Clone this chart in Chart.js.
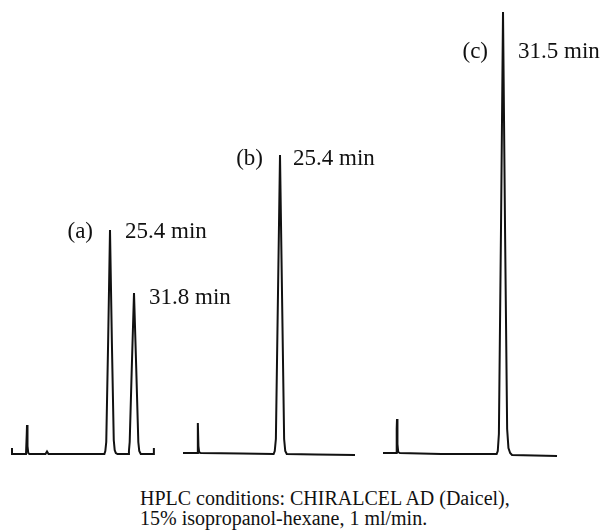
<!DOCTYPE html>
<html>
<head>
<meta charset="utf-8">
<script src="https://cdn.jsdelivr.net/npm/chart.js@4/dist/chart.umd.min.js"></script>
<style>
  body { margin: 0; background: #fff; }
  #wrap { position: relative; width: 604px; height: 530px; }
  #chart { position: absolute; left: 0; top: 0; }
  .caption {
    position: absolute; left: 140px; top: 488px;
    font-family: 'Liberation Serif', 'Times New Roman', serif;
    font-size: 20px; line-height: 20px; color: #111; white-space: nowrap;
  }
</style>
</head>
<body>
<div id="wrap">
  <canvas id="chart" width="604" height="480"></canvas>
  <div class="caption">HPLC conditions: CHIRALCEL AD (Daicel),<br>15% isopropanol-hexane, 1 ml/min.</div>
</div>
<script>
// Chromatogram (a): racemate, two enantiomer peaks
const timeA = [-0.73, -0.73, 3.0, 3.2, 3.27, 3.4, 3.6, 3.9, 8.2, 8.6, 9.0, 23.9, 24.15, 24.4, 24.9, 25.4, 25.9, 26.4, 26.65, 26.95, 27.4, 30.2, 30.45, 30.65, 31.2, 31.8, 32.4, 32.95, 33.2, 33.6, 37.1, 37.1];
const signalA = [6, 0, 0, 20, 29, 8, 1, 0, 0, 2.5, 0, 0, 3, 12, 112, 224, 112, 14, 4, 1, 0, 0, 3, 12, 85, 161, 85, 12, 3, 0, 0, 6];

// Chromatogram (b)
const timeB = [-0.47, 3.3, 3.45, 3.53, 3.65, 3.85, 4.3, 15, 23.7, 24.0, 24.3, 24.85, 25.4, 25.95, 26.5, 26.8, 27.2, 35, 45.4];
const signalB = [1, 1, 22, 31, 8, 1.5, 1, 0.5, 0, 3, 15, 157, 299, 157, 15, 3, 0, -0.5, -1];

// Chromatogram (c)
const timeC = [-0.5, 3.0, 3.15, 3.23, 3.35, 3.55, 4.0, 15, 29.8, 30.1, 30.4, 30.95, 31.5, 32.05, 32.6, 32.95, 33.4, 33.9, 40, 45.9];
const signalC = [1, 1, 25, 35, 10, 2, 1, 0, 0, 3, 20, 221, 442, 221, 25, 6, 1, -1, -1.5, -2];

// Peak annotations
const peakTags = ['(a)', '(b)', '(c)'];
const peakTimes = [[25.4, 31.8], [25.4], [31.5]];

function toPoints(times, values) {
    return times.map((t, i) => ({ x: t, y: values[i] }));
}

// label offsets in px: [tag gap, text gap, baseline drop] per peak
const labelOffsets = [[[17, 15, 8], [0, 15, 11]], [[17, 13, 10]], [[15, 15, 46]]];

const peakLabels = {
    id: 'peakLabels',
    afterDatasetsDraw(chart) {
        const ctx = chart.ctx;
        ctx.save();
        ctx.fillStyle = '#111';
        ctx.font = '23px "Liberation Serif", "Times New Roman", serif';
        ctx.textBaseline = 'alphabetic';
        chart.data.datasets.forEach((ds, di) => {
            const xScale = chart.scales[ds.xAxisID];
            const yScale = chart.scales.y;
            peakTimes[di].forEach((t, pi) => {
                const pt = ds.data.find(p => p.x === t);
                const px = xScale.getPixelForValue(t);
                const py = yScale.getPixelForValue(pt.y);
                const off = labelOffsets[di][pi];
                const by = py + off[2];
                if (pi === 0) {
                    ctx.textAlign = 'right';
                    ctx.fillText(peakTags[di], px - off[0], by);
                }
                ctx.textAlign = 'left';
                ctx.fillText(t.toFixed(1) + ' min', px + off[1], by);
            });
        });
        ctx.restore();
    }
};

const lineStyle = {
    borderColor: '#111',
    borderWidth: 2,
    pointRadius: 0,
    tension: 0,
    fill: false
};

const ctx = document.getElementById('chart').getContext('2d');
const chart = new Chart(ctx, {
    type: 'line',
    data: {
        datasets: [
            Object.assign({ data: toPoints(timeA, signalA), xAxisID: 'xa' }, lineStyle),
            Object.assign({ data: toPoints(timeB, signalB), xAxisID: 'xb' }, lineStyle),
            Object.assign({ data: toPoints(timeC, signalC), xAxisID: 'xc' }, lineStyle)
        ]
    },
    options: {
        responsive: false,
        animation: false,
        layout: { padding: 0 },
        plugins: {
            legend: { display: false },
            tooltip: { enabled: false }
        },
        scales: {
            xa: { type: 'linear', display: false, min: -3.933, max: 157.13 },
            xb: { type: 'linear', display: false, min: -49.267, max: 111.8 },
            xc: { type: 'linear', display: false, min: -102.64, max: 58.43 },
            y: { type: 'linear', display: false, min: -26, max: 454 }
        }
    },
    plugins: [peakLabels]
});
</script>
</body>
</html>
